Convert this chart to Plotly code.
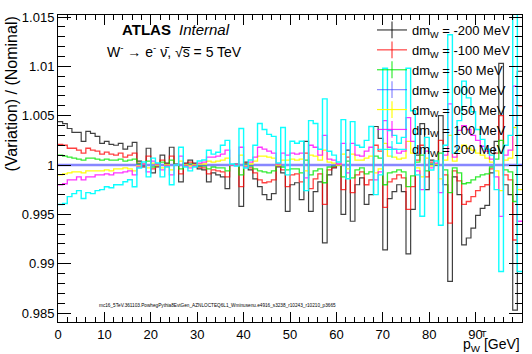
import numpy as np
import plotly.graph_objects as go

# Transverse-momentum binning: 1 GeV bins from 0 to 100 GeV
bin_edges = np.arange(0, 101, 1)

# (Variation / Nominal - 1) x 1e4 in each pT bin, one list per W-mass shift
dev_m200 = [44, 42, 37, 33, 33, 24, 34, 32, 29, 22,
            24, 21, 20, 22, 16, 19, 23, 4, -2, 17,
            -8, -2, 10, 2, 18, 1, -17, 2, 5, 2,
            -4, -5, -17, -8, -10, -12, -24, 0, 1, -42,
            3, -5, -14, -22, -30, -35, -29, -2, -8, -47,
            -20, -18, -35, 24, -47, -27, -17, -79, -10, -3,
            0, -50, 15, -57, -20, -13, -40, -30, 39, 27,
            -86, -34, -27, -20, -27, -90, -45, 10, 42, -25,
            5, 0, 50, -20, -118, -12, -30, -81, -74, -64,
            -51, -44, -41, -8, 24, 103, -20, -30, -147, 95]
dev_m100 = [21, 20, 17, 17, 15, 12, 17, 15, 14, 11,
            13, 11, 10, 12, 8, 10, 12, 2, -1, 9,
            -4, -1, 5, 1, 9, 0, -9, 1, 3, 1,
            -2, -3, -9, -5, -6, -7, -12, 0, 0, -22,
            2, -3, -8, -15, -18, -17, -15, -1, -5, -22,
            -10, -9, -17, 12, -24, -14, -9, -40, -5, -2,
            0, -25, 8, -28, -10, -7, -20, -15, 20, 14,
            -43, -17, -14, -10, -13, -45, -22, 5, 20, -12,
            3, 0, 25, -10, -59, -6, -16, -40, -37, -32,
            -26, -22, -20, -4, 12, 50, -10, -15, -76, 60]
dev_m050 = [10, 9, 8, 7, 6, 5, 7, 7, 6, 5,
            6, 5, 5, 6, 4, 5, 6, 1, 0, 4,
            -2, 0, 3, 0, 5, 0, -4, 0, 1, 0,
            -1, -1, -4, -2, -3, -3, -6, 0, 0, -10,
            1, -1, -4, -6, -7, -8, -6, 0, -2, -5,
            -4, -4, -8, 5, -10, -6, -4, -18, -2, -1,
            0, -12, 4, -13, -5, -3, -9, -7, 9, 7,
            -20, -8, -7, -5, -7, -22, -11, 3, 10, -6,
            1, 0, 12, -5, -28, -3, -8, -19, -18, -15,
            -12, -10, -9, -2, 6, 25, -5, -7, -37, 30]
dev_000 = [0] * 100
dev_p050 = [-10, -9, -8, -7, -7, -8, -6, -6, -6, -6,
            -5, -6, -4, -4, -3, -4, -6, -1, 1, -3,
            2, 0, -3, 0, -5, 0, 4, 0, -1, 0,
            1, 1, 4, 3, 4, 5, 7, 0, 0, 10,
            -1, 1, 4, 9, 9, 8, 7, 0, 5, 5,
            6, 5, 6, -6, 10, 9, 5, 15, 3, 2,
            0, 11, -4, 11, 5, 5, 7, 9, -8, -4,
            22, 9, 8, 6, 7, 24, 12, -3, -12, 7,
            -1, 1, -14, 5, 30, 4, 14, 20, 17, 15,
            12, 10, 7, 3, -6, -26, 5, 7, 38, -25]
dev_p100 = [-20, -19, -15, -15, -12, -15, -12, -12, -10, -10,
            -9, -10, -8, -8, -7, -6, -10, -2, 1, -7,
            4, 1, -5, -1, -10, 0, 9, -1, -3, -1,
            2, 3, 8, 8, 9, 11, 15, 0, 0, 18,
            -2, 3, 8, 18, 16, 14, 12, 1, 12, 10,
            12, 11, 12, -13, 20, 18, 10, 30, 6, 5,
            1, 22, -8, 22, 10, 9, 14, 18, -15, -7,
            45, 18, 16, 12, 14, 48, 24, -6, -25, 14,
            -3, 2, -28, 10, 62, 8, 35, 40, 36, 30,
            25, 19, 14, 6, -12, -52, 10, 15, 80, -57]
dev_p200 = [-40, -39, -32, -29, -26, -34, -28, -29, -26, -25,
            -22, -23, -20, -20, -17, -15, -22, -3, 3, -12,
            7, 2, -12, -2, -20, 0, 18, -2, -6, -2,
            4, 5, 15, 11, 13, 20, 25, 1, -1, 37,
            -3, 5, 20, 42, 36, 31, 29, 2, 38, -10,
            24, 22, 24, -26, 45, 42, 16, 67, 14, 10,
            3, 46, -14, 44, 20, 18, 25, 39, -30, -10,
            98, 35, 30, 22, 28, 98, 55, -10, -52, 28,
            -5, 4, -61, 20, 132, 12, 45, 85, 68, 54,
            36, 26, 16, 10, -25, -108, 20, 30, 170, -108]

shift_labels = ["-200", "-100", "-50", "000", "050", "100", "200"]
series = [dev_m200, dev_m100, dev_m050, dev_000, dev_p050, dev_p100, dev_p200]
colors = ["rgba(0,0,0,0.75)", "rgba(255,0,0,0.75)", "rgba(0,230,0,0.8)",
          "rgba(70,70,255,0.65)", "rgba(255,255,0,0.95)", "rgba(255,0,255,0.8)",
          "rgba(0,255,255,0.95)"]
widths = [1.2, 1.3, 1.3, 2.6, 1.3, 1.3, 1.4]

y_ticks = [0.985, 0.99, 0.995, 1.0, 1.005, 1.01, 1.015]
y_tick_text = ["0.985", "0.99", "0.995", "1", "1.005", "1.01", "1.015"]

FONT = "Liberation Sans, Arial, Helvetica, sans-serif"

fig = go.Figure()

for dev, col, w in zip(series, colors, widths):
    ratio = 1.0 + np.asarray(dev, dtype=float) * 1e-4
    fig.add_trace(go.Scatter(
        x=bin_edges, y=np.append(ratio, ratio[-1]),
        mode="lines", line=dict(color=col, width=w, shape="hv"),
        showlegend=False, hoverinfo="skip"))

# legend entries drawn with the ROOT-style cross marker
for lab, col in zip(shift_labels, colors):
    fig.add_trace(go.Scatter(
        x=[None], y=[None], mode="lines+markers",
        name=f"dm<sub>W</sub> = {lab} MeV",
        line=dict(color=col, width=1.2),
        marker=dict(symbol="line-ns", size=12,
                    line=dict(color=col, width=1.2))))

L, R, T, B = 58, 10, 15, 32
W, H = 532, 354
pw, ph = W - L - R, H - T - B


def px(xp):
    return (xp - L) / pw


def py(yp):
    return (H - B - yp) / ph


fig.update_layout(
    width=W, height=H,
    margin=dict(l=L, r=R, t=T, b=B),
    paper_bgcolor="white", plot_bgcolor="white",
    font=dict(family=FONT, color="black", size=13),
    showlegend=True,
    legend=dict(x=px(372), y=1.0, xanchor="left", yanchor="top",
                bgcolor="rgba(0,0,0,0)", borderwidth=0,
                font=dict(size=13, family=FONT), tracegroupgap=0),
    xaxis=dict(range=[0, 100], showline=True, linecolor="black", linewidth=1,
               mirror="ticks", ticks="inside", ticklen=10, tickwidth=1,
               tickcolor="black", tick0=0, dtick=10, showgrid=False,
               zeroline=False, tickfont=dict(size=13, family=FONT),
               minor=dict(ticks="inside", ticklen=5, dtick=2, tickcolor="black",
                          showgrid=False)),
    yaxis=dict(range=[0.984088, 1.015203], showline=True, linecolor="black",
               linewidth=1, mirror="ticks", ticks="inside", ticklen=13,
               tickwidth=1, tickcolor="black", tickvals=y_ticks,
               ticktext=y_tick_text, showgrid=False, zeroline=False,
               tickfont=dict(size=13, family=FONT),
               minor=dict(ticks="inside", ticklen=7, tick0=0.985, dtick=0.001,
                          tickcolor="black", showgrid=False)),
)

annots = [
    dict(x=px(120), y=py(29), text="<b>ATLAS</b>", font=dict(size=15),
         xanchor="left", yanchor="middle"),
    dict(x=px(177), y=py(29), text="<i>Internal</i>", font=dict(size=15),
         xanchor="left", yanchor="middle"),
    dict(x=px(105), y=py(51),
         text="W<sup>-</sup> \u2192 e<sup>-</sup> \u03bd\u0304, \u221as\u0305 = 5 TeV",
         font=dict(size=14), xanchor="left", yanchor="middle"),
    dict(x=px(97), y=py(305),
         text="mc16_5TeV.361103.PowhegPythia8EvtGen_AZNLOCTEQ6L1_Wminusenu.e4916_s3238_r10243_r10210_p3665",
         font=dict(size=4.7), xanchor="left", yanchor="middle"),
    dict(x=1.0, y=py(345), text="p<sub>W</sub> [GeV]", font=dict(size=14),
         xanchor="right", yanchor="middle"),
    dict(x=px(484), y=py(334), text="T", font=dict(size=9),
         xanchor="center", yanchor="middle"),
    dict(x=px(11), y=1.0, text="(Variation) / (Nominal)", textangle=-90,
         font=dict(size=16), xanchor="center", yanchor="top"),
]
for a in annots:
    a.update(xref="paper", yref="paper", showarrow=False)
fig.update_layout(annotations=annots)

fig.write_html("out.html")
